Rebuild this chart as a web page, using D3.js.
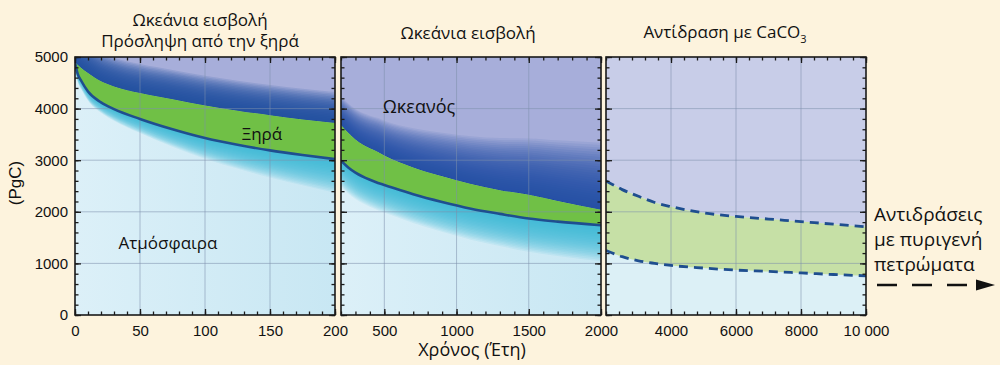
<!DOCTYPE html>
<html><head><meta charset="utf-8">
<script src="https://cdn.jsdelivr.net/npm/d3@7"></script>
<style>body{margin:0;background:#fdf3dd;} svg{display:block}</style>
</head><body><svg id="c" width="1000" height="365"></svg>
<script>
// ---------- DATA ----------
// Panel 1: 0–200 years
const p1Years = [0, 2, 5, 10, 20, 30, 50, 75, 100, 125, 150, 175, 200];
const p1Land  = [4900, 4850, 4780, 4690, 4530, 4430, 4300, 4180, 4060, 3960, 3870, 3790, 3720];
const p1Atm   = [4890, 4680, 4530, 4330, 4120, 3990, 3800, 3600, 3430, 3300, 3190, 3100, 3020];
// Panel 2: 200–2000 years
const p2Years = [200, 250, 300, 400, 456, 500, 700, 900, 1100, 1300, 1500, 1700, 2000];
const p2Land  = [3680, 3530, 3400, 3230, 3160, 3090, 2860, 2690, 2540, 2420, 2330, 2210, 2040];
const p2Atm   = [2990, 2860, 2760, 2620, 2560, 2520, 2340, 2190, 2060, 1960, 1870, 1810, 1740];
// Panel 3: 2000–10000 years
const p3Years = [2000, 2500, 3000, 3500, 4000, 5000, 6000, 7000, 8000, 9000, 10000];
const p3Land  = [2600, 2430, 2300, 2180, 2100, 1980, 1910, 1860, 1810, 1760, 1710];
const p3Atm   = [1250, 1130, 1050, 1000, 960, 910, 870, 845, 815, 785, 760];

const yTicks = [0, 1000, 2000, 3000, 4000, 5000];
const p1Ticks = [0, 50, 100, 150, 200];
const p2Ticks = [500, 1000, 1500, 2000];
const p3Ticks = [4000, 6000, 8000, 10000];

const titles1 = ["Ωκεάνια εισβολή", "Πρόσληψη από την ξηρά"];
const title2 = "Ωκεάνια εισβολή";
const title3 = "Αντίδραση με CaCO";
const sideText = ["Αντιδράσεις", "με πυριγενή", "πετρώματα"];

// ---------- LAYOUT ----------
const svg = d3.select("#c");
const yTop = 57, yBot = 315;
const y = d3.scaleLinear().domain([0, 5000]).range([yBot, yTop]);
const x1 = d3.scaleLinear().domain([0, 200]).range([75, 335]);
const x2 = d3.scaleLinear().domain([200, 2000]).range([341, 601]);
const x3 = d3.scaleLinear().domain([2000, 10000]).range([606, 866]);

const C = {
  bg: "#fdf3dd", ocean: "#a7aeda", oceanDark: "#2450a4", green: "#70c046",
  cyan: "#3ab7d6", atmL: "#dcf0f8", atmR: "#c8e7f3", line: "#1f4e8f",
  ocean3: "#c8cde8", green3: "#c6e0a6", atm3: "#dcf0f6", grid: "#7d8fab"
};
svg.append("rect").attr("width", 1000).attr("height", 365).attr("fill", C.bg);
const defs = svg.append("defs");

function panel(id, x) {
  const [r0, r1] = x.range();
  defs.append("clipPath").attr("id", "clip" + id).append("rect")
    .attr("x", r0).attr("y", yTop).attr("width", r1 - r0).attr("height", yBot - yTop);
  return svg.append("g").attr("clip-path", `url(#clip${id})`);
}

function areaBetween(x, years, lo, hi) {
  return d3.area().curve(d3.curveMonotoneX)
    .x((d, i) => x(years[i])).y0((d, i) => y(lo(i))).y1((d, i) => y(hi(i)));
}

function softBand(g, x, years, vals, dir, th0, th1, color, N, a) {
  const [d0, d1] = x.domain();
  const th = t => th0 + (th1 - th0) * (t - d0) / (d1 - d0);
  for (let k = 0; k < N; k++) {
    const f = (k + 1) / N;
    g.append("path").datum(vals)
      .attr("d", areaBetween(x, years, i => vals[i], i => vals[i] + dir * th(years[i]) * f))
      .attr("fill", color).attr("fill-opacity", a);
  }
}

function grid(g, x) {
  const [r0, r1] = x.range();
  const xt = x.ticks(4).filter(t => t > x.domain()[0] && t < x.domain()[1]);
  g.selectAll(null).data(xt).enter().append("line")
    .attr("x1", d => x(d)).attr("x2", d => x(d)).attr("y1", yTop).attr("y2", yBot)
    .attr("stroke", C.grid).attr("stroke-opacity", 0.55).attr("stroke-width", 1);
  g.selectAll(null).data(yTicks.slice(1, -1)).enter().append("line")
    .attr("x1", r0).attr("x2", r1).attr("y1", d => y(d)).attr("y2", d => y(d))
    .attr("stroke", C.grid).attr("stroke-opacity", 0.55).attr("stroke-width", 1);
}

function shadedPanel(id, x, years, land, atm, oc, cy) {
  const g = panel(id, x);
  const [r0, r1] = x.range();
  const grad = defs.append("linearGradient").attr("id", "atm" + id)
    .attr("x1", 0).attr("x2", 1).attr("y1", 0).attr("y2", 0);
  grad.append("stop").attr("offset", 0).attr("stop-color", C.atmL);
  grad.append("stop").attr("offset", 1).attr("stop-color", C.atmR);
  g.append("rect").attr("x", r0).attr("y", yTop).attr("width", r1 - r0).attr("height", yBot - yTop)
    .attr("fill", `url(#atm${id})`);
  g.append("path").datum(land).attr("d", areaBetween(x, years, i => land[i], i => 5200)).attr("fill", C.ocean);
  softBand(g, x, years, atm, -1, cy[0], cy[1], C.cyan, cy[2], cy[3]);
  softBand(g, x, years, land, 1, oc[0], oc[1], C.oceanDark, oc[2], oc[3]);
  g.append("path").datum(land).attr("d", areaBetween(x, years, i => atm[i], i => land[i])).attr("fill", C.green);
  grid(g, x);
  g.append("path").datum(atm)
    .attr("d", d3.line().curve(d3.curveMonotoneX).x((d, i) => x(years[i])).y(d => y(d)))
    .attr("fill", "none").attr("stroke", C.line).attr("stroke-width", 2.6);
  return g;
}

// Panel 1
shadedPanel(1, x1, p1Years, p1Land, p1Atm, [550, 600, 20, 0.15], [150, 650, 22, 0.1]);
// Panel 2
shadedPanel(2, x2, p2Years, p2Land, p2Atm, [550, 1300, 28, 0.09], [500, 700, 22, 0.1]);

// Panel 3
{
  const g = panel(3, x3);
  const [r0, r1] = x3.range();
  g.append("rect").attr("x", r0).attr("y", yTop).attr("width", r1 - r0).attr("height", yBot - yTop).attr("fill", C.atm3);
  g.append("path").datum(p3Land).attr("d", areaBetween(x3, p3Years, i => p3Land[i], i => 5200)).attr("fill", C.ocean3);
  g.append("path").datum(p3Land).attr("d", areaBetween(x3, p3Years, i => p3Atm[i], i => p3Land[i])).attr("fill", C.green3);
  grid(g, x3);
  [p3Land, p3Atm].forEach(vals => {
    g.append("path").datum(vals)
      .attr("d", d3.line().curve(d3.curveMonotoneX).x((d, i) => x3(p3Years[i])).y(d => y(d)))
      .attr("fill", "none").attr("stroke", C.line).attr("stroke-width", 2.8)
      .attr("stroke-dasharray", "9 6");
  });
}

// ---------- AXES / FRAMES ----------
const tickFont = "'Liberation Sans', Arial, sans-serif";
function frame(x, majors, minorStep, fmt) {
  const [r0, r1] = x.range();
  const [d0, d1] = x.domain();
  const minors = d3.range(d0, d1 + 1e-6, minorStep);
  const yMinor = d3.range(0, 5001, 200);
  const add = (axis, tr) => {
    const gg = svg.append("g").attr("transform", tr).call(axis);
    gg.select(".domain").remove();
    gg.selectAll("line").attr("stroke", "#1a1a1a").attr("stroke-width", 1.3);
    return gg;
  };
  add(d3.axisBottom(x).tickValues(minors).tickSize(-3.5).tickFormat(""), `translate(0,${yBot})`);
  add(d3.axisTop(x).tickValues(minors).tickSize(-3.5).tickFormat(""), `translate(0,${yTop})`);
  add(d3.axisLeft(y).tickValues(yMinor).tickSize(-3.5).tickFormat(""), `translate(${r0},0)`);
  add(d3.axisRight(y).tickValues(yMinor).tickSize(-3.5).tickFormat(""), `translate(${r1},0)`);
  const bx = add(d3.axisBottom(x).tickValues(majors).tickSize(-6).tickPadding(10).tickFormat(fmt), `translate(0,${yBot})`);
  bx.selectAll("text").attr("font-family", tickFont).attr("font-size", 15).attr("fill", "#111");
  add(d3.axisTop(x).tickValues(majors).tickSize(-6).tickFormat(""), `translate(0,${yTop})`);
  add(d3.axisLeft(y).tickValues(yTicks).tickSize(-6).tickFormat(""), `translate(${r0},0)`);
  add(d3.axisRight(y).tickValues(yTicks).tickSize(-6).tickFormat(""), `translate(${r1},0)`);
  svg.append("rect").attr("x", r0).attr("y", yTop).attr("width", r1 - r0).attr("height", yBot - yTop)
    .attr("fill", "none").attr("stroke", "#1a1a1a").attr("stroke-width", 1.6);
}
const fmtSpace = d => d >= 10000 ? d3.format(",")(d).replace(",", " ") : String(d);
frame(x1, p1Ticks, 10, fmtSpace);
frame(x2, p2Ticks, 100, fmtSpace);
frame(x3, p3Ticks, 400, fmtSpace);

const ya = svg.append("g").attr("transform", `translate(${x1.range()[0]},0)`)
  .call(d3.axisLeft(y).tickValues(yTicks).tickSize(0).tickPadding(7).tickFormat(d3.format("d")));
ya.select(".domain").remove();
ya.selectAll("text").attr("font-family", tickFont).attr("font-size", 15).attr("fill", "#111");

// ---------- TEXT ----------
const sans = "'Open Sans', 'Noto Sans', sans-serif";
const txt = (s, xx, yy, size, anchor = "middle") => svg.append("text").attr("x", xx).attr("y", yy)
  .attr("font-family", sans).attr("font-size", size).attr("fill", "#111").attr("text-anchor", anchor).text(s);

txt(titles1[0], 200, 26, 17);
txt(titles1[1], 200, 47, 17);
txt(title2, 468, 39, 17);
const t3 = txt(title3, 725, 38, 17);
t3.append("tspan").attr("font-size", 11).attr("dy", 5).text("3");

txt("Ξηρά", 262, 140, 17);
txt("Ωκεανός", 419, 113, 18);
txt("Ατμόσφαιρα", 168, 249, 17);

svg.append("text").attr("transform", "translate(21,183) rotate(-90)")
  .attr("font-family", tickFont).attr("font-size", 17).attr("fill", "#111")
  .attr("text-anchor", "middle").text("(PgC)");
txt("Χρόνος (Έτη)", 472, 356, 18);

sideText.forEach((s, i) => txt(s, 874, 221 + i * 25, 19, "start"));
svg.append("line").attr("x1", 877).attr("x2", 972).attr("y1", 285).attr("y2", 285)
  .attr("stroke", "#111").attr("stroke-width", 2.5).attr("stroke-dasharray", "20 15");
svg.append("path").attr("d", "M976,279.5 L995,285 L976,290.5 Z").attr("fill", "#111");
</script></body></html>
